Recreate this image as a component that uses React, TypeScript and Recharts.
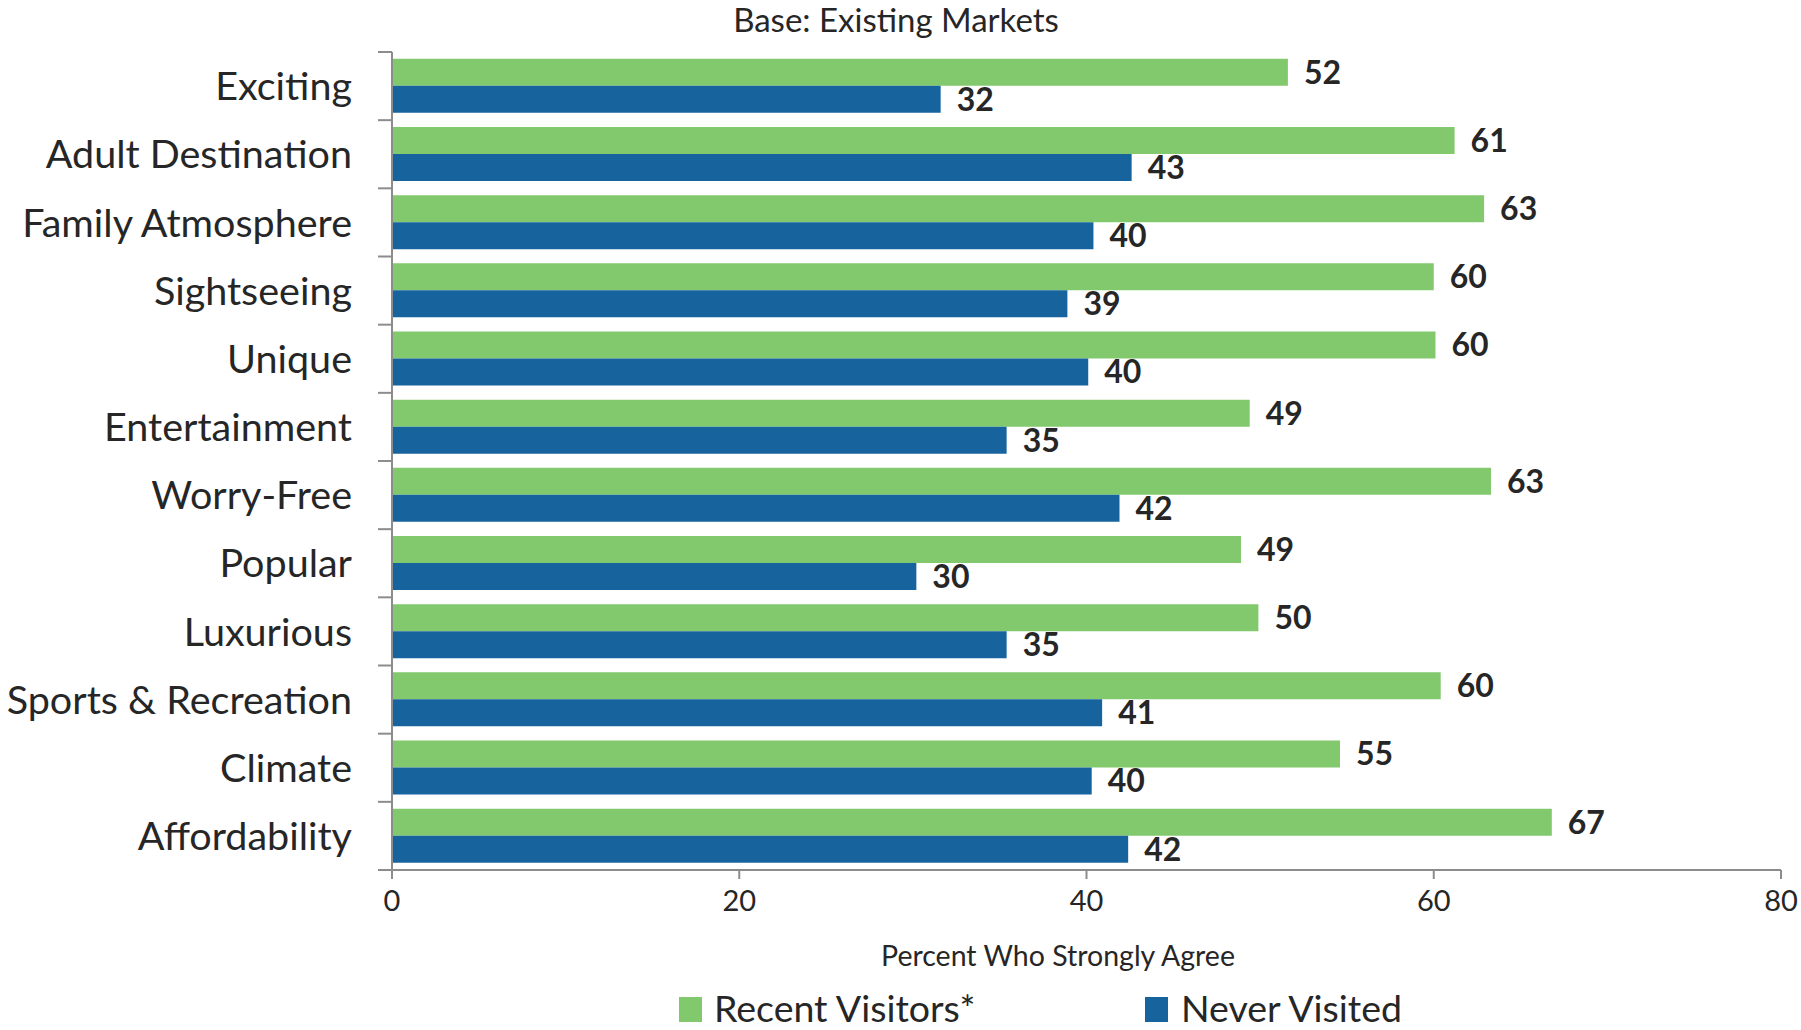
import React from 'react';
import { BarChart, Bar, XAxis, YAxis, LabelList } from 'recharts';

const categories = [
  'Exciting',
  'Adult Destination',
  'Family Atmosphere',
  'Sightseeing',
  'Unique',
  'Entertainment',
  'Worry-Free',
  'Popular',
  'Luxurious',
  'Sports & Recreation',
  'Climate',
  'Affordability',
];
const recentVisitors = [51.6, 61.2, 62.9, 60.0, 60.1, 49.4, 63.3, 48.9, 49.9, 60.4, 54.6, 66.8];
const neverVisited = [31.6, 42.6, 40.4, 38.9, 40.1, 35.4, 41.9, 30.2, 35.4, 40.9, 40.3, 42.4];
const xTicks = [0, 20, 40, 60, 80];

const data = categories.map((name, i) => ({
  name,
  recent: recentVisitors[i],
  never: neverVisited[i],
}));

const GREEN = '#82c96e';
const BLUE = '#17639d';
const TEXT = '#262626';
const AXIS = '#8c8c8c';
const FONT = 'Lato, "Open Sans", sans-serif';

const PLOT_TOP = 52;
const PLOT_BOTTOM = 870;
const BAND = (PLOT_BOTTOM - PLOT_TOP) / categories.length;

function CategoryTick(props: any) {
  const { x, y, payload, index } = props;
  const isLast = index === categories.length - 1;
  return (
    <g>
      <line x1={x + 26} x2={x + 40} y1={y - BAND / 2} y2={y - BAND / 2} stroke={AXIS} strokeWidth={2} />
      {isLast && (
        <line x1={x + 26} x2={x + 40} y1={y + BAND / 2} y2={y + BAND / 2} stroke={AXIS} strokeWidth={2} />
      )}
      <text x={x} y={y} dy="0.36em" textAnchor="end" fill={TEXT} fontSize={39.5} fontFamily={FONT}>
        {payload.value}
      </text>
    </g>
  );
}

const legendText: React.CSSProperties = {
  position: 'absolute',
  top: 990,
  height: 36,
  lineHeight: '36px',
  fontSize: 37.5,
  color: TEXT,
  whiteSpace: 'nowrap',
};

export default function App() {
  return (
    <div style={{ position: 'absolute', left: 0, top: 0, width: 1801, height: 1030, background: '#fff', fontFamily: FONT, overflow: 'hidden' }}>
      <div
        style={{
          position: 'absolute',
          left: 0,
          width: 1792,
          top: 0,
          textAlign: 'center',
          fontSize: 33,
          color: TEXT,
          lineHeight: '38px',
        }}
      >
        Base: Existing Markets
      </div>
      <BarChart
        width={1801}
        height={1030}
        data={data}
        layout="vertical"
        margin={{ top: PLOT_TOP, right: 20, left: 0, bottom: 1030 - PLOT_BOTTOM - 60 }}
        barCategoryGap="10%"
        barGap={0}
      >
        <XAxis
          type="number"
          domain={[0, 80]}
          ticks={xTicks}
          height={60}
          tickSize={9}
          tickMargin={11}
          stroke={AXIS}
          strokeWidth={2}
          tick={{ fill: TEXT, fontSize: 29, fontFamily: FONT }}
        />
        <YAxis
          type="category"
          dataKey="name"
          width={392}
          tickLine={false}
          tickSize={14}
          tickMargin={26}
          stroke={AXIS}
          strokeWidth={2}
          tick={<CategoryTick />}
          interval={0}
        />
        <Bar dataKey="recent" name="Recent Visitors*" fill={GREEN} isAnimationActive={false}>
          <LabelList
            dataKey="recent"
            position="right"
            offset={16}
            formatter={(v: any) => Math.round(Number(v))}
            style={{ fill: TEXT, fontSize: 32, fontWeight: 700, fontFamily: FONT }}
          />
        </Bar>
        <Bar dataKey="never" name="Never Visited" fill={BLUE} isAnimationActive={false}>
          <LabelList
            dataKey="never"
            position="right"
            offset={16}
            formatter={(v: any) => Math.round(Number(v))}
            style={{ fill: TEXT, fontSize: 32, fontWeight: 700, fontFamily: FONT }}
          />
        </Bar>
      </BarChart>
      <div
        style={{
          position: 'absolute',
          left: 858,
          width: 400,
          top: 937,
          textAlign: 'center',
          fontSize: 28.5,
          color: TEXT,
          lineHeight: '36px',
          whiteSpace: 'nowrap',
        }}
      >
        Percent Who Strongly Agree
      </div>
      <span style={{ position: 'absolute', left: 679, top: 997, width: 23, height: 25, background: GREEN }} />
      <span style={{ ...legendText, left: 714 }}>Recent Visitors*</span>
      <span style={{ position: 'absolute', left: 1145, top: 997, width: 23, height: 25, background: BLUE }} />
      <span style={{ ...legendText, left: 1181 }}>Never Visited</span>
    </div>
  );
}
